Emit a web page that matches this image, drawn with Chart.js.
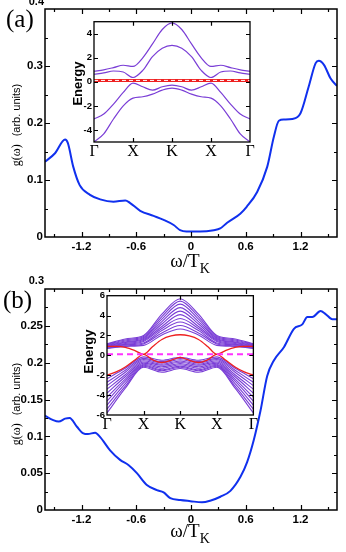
<!DOCTYPE html>
<html>
<head>
<meta charset="utf-8">
<script src="https://cdn.jsdelivr.net/npm/chart.js@4.4.1/dist/chart.umd.min.js"></script>
<style>
body { margin: 0; background: #fff; width: 346px; height: 552px; position: relative; overflow: hidden; }
canvas { position: absolute; }
.t { position: absolute; white-space: nowrap; line-height: 1; color: #000; }
.serif { font-family: "Liberation Serif", "DejaVu Serif", serif; }
.sans { font-family: "Liberation Sans", Arial, sans-serif; }
</style>
</head>
<body>
<canvas id="cA" width="346" height="278" style="left:0;top:0"></canvas>
<canvas id="cB" width="346" height="274" style="left:0;top:278px"></canvas>
<canvas id="iA" width="200" height="146" style="left:55px;top:14px"></canvas>
<canvas id="iB" width="191" height="145" style="left:67px;top:288px"></canvas>

<div class="t serif" style="left:6px;top:6px;font-size:25px">(a)</div>
<div class="t serif" style="left:3px;top:287px;font-size:25px">(b)</div>
<div class="t sans" style="left:24px;width:20px;text-align:right;top:-4px;font-size:11px;font-weight:bold">0.4</div>
<div class="t sans" style="left:24px;width:20px;text-align:right;top:275px;font-size:11px;font-weight:bold">0.3</div>

<div class="t serif" style="left:140px;width:100px;text-align:center;top:251px;font-size:19px">ω/T<span style="font-size:14px;position:relative;top:6px">K</span></div>
<div class="t serif" style="left:140px;width:100px;text-align:center;top:521px;font-size:19px">ω/T<span style="font-size:14px;position:relative;top:6px">K</span></div>

<div class="t" style="left:-45px;top:117px;width:120px;text-align:center;transform:rotate(-90deg)"><span class="serif" style="font-size:12px">g(ω)</span>&nbsp;&nbsp;<span class="sans" style="font-size:11px">(arb. units)</span></div>
<div class="t" style="left:-45px;top:396px;width:120px;text-align:center;transform:rotate(-90deg)"><span class="serif" style="font-size:12px">g(ω)</span>&nbsp;&nbsp;<span class="sans" style="font-size:11px">(arb. units)</span></div>

<div class="t sans" style="left:47px;top:77px;width:60px;text-align:center;transform:rotate(-90deg);font-size:13px;font-weight:bold">Energy</div>
<div class="t sans" style="left:58px;top:345px;width:60px;text-align:center;transform:rotate(-90deg);font-size:13px;font-weight:bold">Energy</div>

<script>
// main curves
const wA = [-1.6, -1.49, -1.38, -1.35, -1.29, -1.22, -1.107, -0.995, -0.85, -0.72, -0.67, -0.557, -0.41, -0.30, -0.19, -0.12, -0.05, 0.1, 0.25, 0.32, 0.396, 0.54, 0.61, 0.725, 0.835, 0.908, 0.963, 1.02, 1.11, 1.20, 1.29, 1.366, 1.40, 1.457, 1.53, 1.60];
const gA = [0.132, 0.147, 0.171, 0.165, 0.123, 0.091, 0.074, 0.066, 0.062, 0.064, 0.060, 0.046, 0.037, 0.030, 0.021, 0.012, 0.0096, 0.0096, 0.012, 0.015, 0.025, 0.041, 0.053, 0.079, 0.123, 0.176, 0.204, 0.206, 0.207, 0.217, 0.264, 0.305, 0.309, 0.302, 0.278, 0.265];

const wB = [-1.6, -1.51, -1.45, -1.38, -1.33, -1.25, -1.18, -1.13, -1.05, -0.995, -0.887, -0.777, -0.686, -0.593, -0.484, -0.374, -0.30, -0.227, -0.117, -0.007, 0.12, 0.21, 0.322, 0.432, 0.542, 0.615, 0.688, 0.762, 0.835, 0.908, 1.018, 1.128, 1.22, 1.275, 1.33, 1.42, 1.475, 1.55, 1.60];
const gB = [0.128, 0.122, 0.120, 0.124, 0.125, 0.113, 0.104, 0.103, 0.105, 0.099, 0.081, 0.068, 0.061, 0.050, 0.034, 0.027, 0.024, 0.016, 0.0135, 0.012, 0.0104, 0.0126, 0.018, 0.026, 0.045, 0.065, 0.095, 0.135, 0.182, 0.203, 0.221, 0.246, 0.252, 0.262, 0.262, 0.270, 0.266, 0.259, 0.259];

// tick marks + labels
const xTicks = [-1.5, -1.2, -0.9, -0.6, -0.3, 0, 0.3, 0.6, 0.9, 1.2, 1.5];
const xTickText = ['', '-1.2', '', '-0.6', '', '0', '', '0.6', '', '1.2', ''];
const yTicksA = [0, 0.05, 0.1, 0.15, 0.2, 0.25, 0.3, 0.35, 0.4];
const yTickTextA = ['0', '', '0.1', '', '0.2', '', '0.3', '', ''];
const yTicksB = [0, 0.025, 0.05, 0.075, 0.1, 0.125, 0.15, 0.175, 0.2, 0.225, 0.25, 0.275, 0.3];
const yTickTextB = ['0', '', '0.05', '', '0.1', '', '0.15', '', '0.2', '', '0.25', '', ''];

// insets: band energies along Γ -> X -> K (mirrored for K -> X -> Γ)
const kLabels = ['Γ', 'X', 'K', 'X', 'Γ'];
const bandsA = [
  [0.88, 1.0, 1.18, 1.38, 1.28, 2.0, 3.15, 4.35, 4.9],
  [0.63, 0.75, 0.9, 0.82, 0.36, 0.95, 2.1, 2.8, 3.04],
  [-3.09, -2.68, -1.85, -0.88, -0.11, -0.41, -0.69, -0.41, -0.28],
  [-5.0, -4.33, -3.09, -1.99, -1.35, -1.24, -1.02, -0.69, -0.52]
];
const fermiA = 0.12;

// inset b: purple bands at Γ, ½, X, 1½, K
const upperB = [
  [1.15, 1.65, 2.0, 4.15, 5.7],
  [1.1, 1.55, 1.9, 3.9, 5.45],
  [1.05, 1.45, 1.8, 3.65, 5.15],
  [1.0, 1.35, 1.7, 3.4, 4.8],
  [0.95, 1.3, 1.6, 3.15, 4.45],
  [0.9, 1.2, 1.5, 2.9, 4.1],
  [0.85, 1.1, 1.4, 2.7, 3.7],
  [0.8, 1.05, 1.25, 2.5, 3.35],
  [0.75, 0.95, 1.15, 2.25, 3.0],
  [0.7, 0.9, 1.0, 2.05, 2.65]
];
const lowerB = [
  [-2.35, -1.3, -0.15, -0.5, -0.2],
  [-2.7, -1.5, -0.3, -0.62, -0.32],
  [-3.05, -1.7, -0.42, -0.75, -0.45],
  [-3.4, -1.95, -0.55, -0.88, -0.57],
  [-3.8, -2.15, -0.67, -1.0, -0.7],
  [-4.2, -2.4, -0.78, -1.15, -0.82],
  [-4.6, -2.6, -0.9, -1.3, -0.95],
  [-5.0, -2.85, -1.0, -1.45, -1.08],
  [-5.4, -3.1, -1.1, -1.55, -1.2],
  [-5.8, -3.3, -1.2, -1.7, -1.33]
];
const redUpB = [0.9, 0.9, 0.8, 0.5, 0.1, 0.9, 1.6, 1.95, 2.07];
const redLowB = [-2.0, -1.67, -1.17, -0.5, 0.1, -0.45, -0.72, -0.5, -0.2];
const fermiB = 0.12;

const PURPLE = '#7a3ed6';
const RED = '#ee2020';
const BLUE = '#1030ee';
const SANS = '"Liberation Sans", Arial, sans-serif';
const SERIF = '"Liberation Serif", "DejaVu Serif", serif';

// frame box + inward ticks on all four sides
const frameTicks = {
  id: 'frameTicks',
  beforeDraw(chart, args, opts) {
    if (!opts.fill) return;
    const a = chart.chartArea, ctx = chart.ctx;
    ctx.save();
    ctx.fillStyle = '#fff';
    ctx.fillRect(a.left, a.top, a.right - a.left, a.bottom - a.top);
    ctx.restore();
  },
  afterDraw(chart, args, opts) {
    const { ctx, chartArea: a, scales } = chart;
    const x = scales.x, y = scales.y;
    ctx.save();
    ctx.strokeStyle = '#000';
    ctx.lineWidth = 1.2;
    ctx.beginPath();
    x.ticks.forEach(t => {
      if (t.value <= x.min + 1e-9 || t.value >= x.max - 1e-9) return;
      const px = Math.round(x.getPixelForValue(t.value)) + 0.5;
      const len = t.label !== '' ? opts.major : opts.minor;
      ctx.moveTo(px, a.bottom); ctx.lineTo(px, a.bottom - len);
      ctx.moveTo(px, a.top); ctx.lineTo(px, a.top + len);
    });
    y.ticks.forEach(t => {
      if (t.value <= y.min + 1e-9 || t.value >= y.max - 1e-9) return;
      const py = Math.round(y.getPixelForValue(t.value)) + 0.5;
      const len = (t.label !== '' || opts.allMajor) ? opts.major : opts.minor;
      ctx.moveTo(a.left, py); ctx.lineTo(a.left + len, py);
      ctx.moveTo(a.right, py); ctx.lineTo(a.right - len, py);
    });
    ctx.stroke();
    ctx.lineWidth = opts.frame;
    ctx.strokeRect(a.left, a.top, a.right - a.left, a.bottom - a.top);
    ctx.restore();
  }
};

function pts(xs, ys) { return xs.map((v, i) => ({ x: v, y: ys[i] })); }

function mainChart(id, xs, ys, yTicks, yText, yMax, topPad, xAxisH) {
  return new Chart(document.getElementById(id), {
    type: 'line',
    data: {
      datasets: [{
        data: pts(xs, ys),
        borderColor: BLUE,
        borderWidth: 2,
        pointRadius: 0,
        cubicInterpolationMode: 'monotone',
        fill: false
      }]
    },
    options: {
      responsive: false,
      animation: false,
      layout: { padding: { left: 0, right: 9, top: topPad, bottom: 0 } },
      plugins: { legend: { display: false }, tooltip: { enabled: false },
        frameTicks: { major: 5, minor: 3, frame: 1.5 } },
      scales: {
        x: {
          type: 'linear', min: -1.6, max: 1.6,
          afterBuildTicks: s => { s.ticks = xTicks.map(v => ({ value: v })); },
          afterFit: s => { s.height = xAxisH; },
          grid: { display: false, drawTicks: false },
          border: { display: false },
          ticks: { autoSkip: false, maxRotation: 0, padding: 3, color: '#000',
            font: { family: SANS, size: 11.5, weight: 'bold' },
            callback: (v, i) => xTickText[i] }
        },
        y: {
          type: 'linear', min: 0, max: yMax,
          afterBuildTicks: s => { s.ticks = yTicks.map(v => ({ value: v })); },
          afterFit: s => { s.width = 45; },
          grid: { display: false, drawTicks: false },
          border: { display: false },
          ticks: { autoSkip: false, padding: 2, color: '#000',
            font: { family: SANS, size: 11.5, weight: 'bold' },
            callback: (v, i) => yText[i] }
        }
      }
    },
    plugins: [frameTicks]
  });
}

mainChart('cA', wA, gA, yTicksA, yTickTextA, 0.4, 9, 41);
mainChart('cB', wB, gB, yTicksB, yTickTextB, 0.3, 11, 42);

// Γ-X-K-X-Γ path from a half path
function bandPath(half) {
  const n = half.length, step = 2 / (n - 1);
  const out = half.map((e, i) => ({ x: i * step, y: e }));
  for (let i = n - 2; i >= 0; i--) out.push({ x: 4 - i * step, y: half[i] });
  return out;
}
function line(data, color, width, dash) {
  return { data: data, borderColor: color, borderWidth: width, borderDash: dash || [],
    pointRadius: 0, cubicInterpolationMode: 'monotone', fill: false };
}

function insetChart(id, datasets, eMax, eTicks, yAxisW, rightPad) {
  return new Chart(document.getElementById(id), {
    type: 'line',
    data: { datasets: datasets },
    options: {
      responsive: false,
      animation: false,
      layout: { padding: { left: 0, right: rightPad, top: 7, bottom: 0 } },
      plugins: { legend: { display: false }, tooltip: { enabled: false },
        frameTicks: { fill: true, major: 4, minor: 4, frame: 1.3, allMajor: true } },
      scales: {
        x: {
          type: 'linear', min: 0, max: 4,
          afterBuildTicks: s => { s.ticks = [0, 1, 2, 3, 4].map(v => ({ value: v })); },
          afterFit: s => { s.height = 18; },
          grid: { display: false, drawTicks: false },
          border: { display: false },
          ticks: { autoSkip: false, maxRotation: 0, padding: 0, color: '#000',
            font: { family: SERIF, size: 16 },
            callback: (v, i) => kLabels[i] }
        },
        y: {
          type: 'linear', min: -eMax, max: eMax,
          afterBuildTicks: s => { s.ticks = eTicks.map(v => ({ value: v })); },
          afterFit: s => { s.width = yAxisW; },
          grid: { display: false, drawTicks: false },
          border: { display: false },
          ticks: { autoSkip: false, padding: 2, color: '#000',
            font: { family: SANS, size: 9.5, weight: 'bold' },
            callback: v => String(v) }
        }
      }
    },
    plugins: [frameTicks]
  });
}

const dsA = [
  line([{ x: 0, y: fermiA }, { x: 4, y: fermiA }], '#ffffff', 1, [4, 3]),
  line([{ x: 0, y: fermiA }, { x: 4, y: fermiA }], RED, 3)
].concat(bandsA.map(b => line(bandPath(b), PURPLE, 1.2)));
insetChart('iA', dsA, 5, [-4, -2, 0, 2, 4], 39, 5);

const dsB = [
  line([{ x: 0, y: fermiB }, { x: 4, y: fermiB }], '#ff33ff', 2, [6, 4]),
  line(bandPath(redUpB), RED, 1.3),
  line(bandPath(redLowB), RED, 1.3)
].concat(upperB.map(b => line(bandPath(b), PURPLE, 1.1)))
 .concat(lowerB.map(b => line(bandPath(b), PURPLE, 1.1)));
insetChart('iB', dsB, 6, [-6, -4, -2, 0, 2, 4, 6], 40, 4.5);
</script>
</body>
</html>
